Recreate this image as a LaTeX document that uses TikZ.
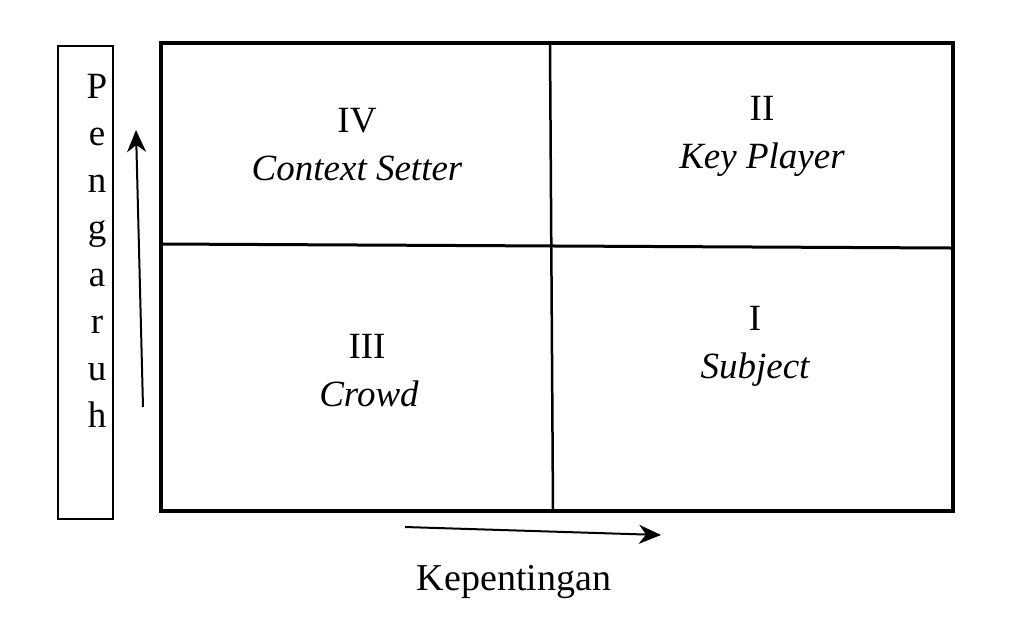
\documentclass[tikz,border=0pt]{standalone}
\usepackage{fontspec}
\setmainfont{Liberation Serif}
\usetikzlibrary{arrows.meta}

\begin{document}
\begin{tikzpicture}[
  x=1pt, y=-1pt,
  >={Stealth[length=22pt,width=19pt,inset=7pt]},
  every node/.style={inner sep=0pt, font=\fontsize{37}{47}\selectfont},
  numlabel/.style={anchor=base},
  namelabel/.style={anchor=base, font=\fontsize{37}{47}\selectfont\itshape},
  letter/.style={anchor=base}
]
\useasboundingbox (0,0) rectangle (1010,633);

% matrix frame
\draw[line width=4pt] (161,43) rectangle (953,511);
\draw[line width=3pt] (161,244) -- (951,248);
\draw[line width=2.5pt] (550,43) -- (553,511);

% quadrants
\node[numlabel]  (q4)  at (357,132) {IV};
\node[namelabel] (q4n) at (357,180) {Context Setter};
\node[numlabel]  (q2)  at (762,120) {II};
\node[namelabel] (q2n) at (762,168) {Key Player};
\node[numlabel]  (q3)  at (367,358) {III};
\node[namelabel] (q3n) at (369,406) {Crowd};
\node[numlabel]  (q1)  at (755,330) {I};
\node[namelabel] (q1n) at (755,378) {Subject};

% vertical axis label
\draw[line width=1.5pt] (58,46) rectangle (113,519);
\foreach \ch [count=\i] in {P,e,n,g,a,r,u,h}
  \node[letter] (p\i) at (97,{98+47*(\i-1)}) {\ch};

% axes
\coordinate (vs) at (143,407);
\coordinate (ve) at (136,130);
\draw[->, line width=2pt] (vs) -- (ve);

\coordinate (hs) at (405,527);
\coordinate (he) at (661,535);
\draw[->, line width=2pt] (hs) -- (he);

\node[anchor=base, font=\fontsize{38}{46}\selectfont] (kep) at (514,590) {Kepentingan};

\end{tikzpicture}
\end{document}
